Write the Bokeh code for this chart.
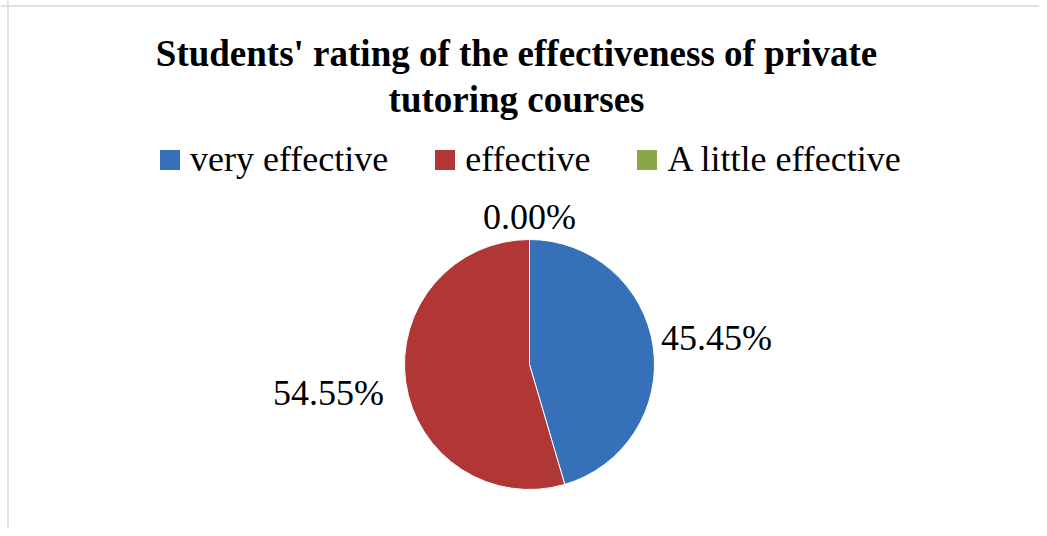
import math
from bokeh.plotting import figure
from bokeh.models import ColumnDataSource, Range1d, Label, Legend, LegendItem, Span
from bokeh.core.properties import value
from bokeh.embed import file_html
from bokeh.resources import INLINE

# ---- data ----
title_lines = ["Students' rating of the effectiveness of private", "tutoring courses"]
categories = ["very effective", "effective", "A little effective"]
percents = [45.45, 54.55, 0.00]
colors = ["#3670b8", "#b03735", "#87a74a"]

# ---- layout constants (pixel space, y measured from top) ----
W, H = 1039, 528
FONT = "Liberation Serif"
CX, CY, R = 529, H - 364, 125
label_dist = [189, 203, 148]

p = figure(width=W, height=H, output_backend="svg", toolbar_location=None,
           x_range=Range1d(0, W), y_range=Range1d(0, H),
           x_axis_type=None, y_axis_type=None, min_border=0,
           outline_line_color=None, background_fill_color="white")
p.grid.visible = False

total = sum(percents)
cum = [0.0]
for v in percents:
    cum.append(cum[-1] + v / total)

# only non-empty slices are drawn as wedges
idx = [i for i, v in enumerate(percents) if v > 0]
src = ColumnDataSource(dict(
    cat=[categories[i] for i in idx],
    pct=[percents[i] for i in idx],
    color=[colors[i] for i in idx],
    start=[math.pi / 2 - 2 * math.pi * cum[i] for i in idx],
    end=[math.pi / 2 - 2 * math.pi * cum[i + 1] for i in idx]))
p.wedge(x=CX, y=CY, radius=R, start_angle="start", end_angle="end",
        direction="clock", fill_color="color", line_color="white",
        line_width=1, source=src)

# percentage labels
lx, ly, lt = [], [], []
for i, v in enumerate(percents):
    mid = 2 * math.pi * (cum[i] + cum[i + 1]) / 2
    lx.append(CX + label_dist[i] * math.sin(mid))
    ly.append(CY + label_dist[i] * math.cos(mid))
    lt.append(f"{v:.2f}%")
p.text(x=lx, y=ly, text=lt, text_align="center", text_baseline="middle",
       text_font=value(FONT), text_font_size="36px", text_color="black")

# title
title_y = [H - 53, H - 99]
for line, ty in zip(title_lines, title_y):
    p.add_layout(Label(x=516, y=ty, text=line, text_align="center",
                       text_baseline="middle", text_font=FONT,
                       text_font_style="bold", text_font_size="37px",
                       text_color="black"))

# legend (square swatches for every category, including the empty one)
nan = float("nan")
swatches = [p.rect(x=[nan], y=[nan], width=1, height=1, fill_color=c, line_color=None)
            for c in colors]
items = [LegendItem(label=c, renderers=[r]) for c, r in zip(categories, swatches)]
leg = Legend(items=items, orientation="horizontal", location=(157, 348),
             glyph_width=25, glyph_height=25, label_standoff=8, spacing=44,
             padding=0, margin=0, border_line_color=None,
             background_fill_alpha=0, label_text_font=FONT,
             label_text_font_size="36px", label_text_color="black")
p.add_layout(leg, "center")

# chart border (left and top edges visible)
p.add_layout(Span(location=7.5, dimension="height", line_color="#d9d9d9", line_width=1.5))
p.add_layout(Span(location=H - 5.5, dimension="width", line_color="#d9d9d9", line_width=1.5))

open("out.html", "w").write(file_html(p, INLINE))
